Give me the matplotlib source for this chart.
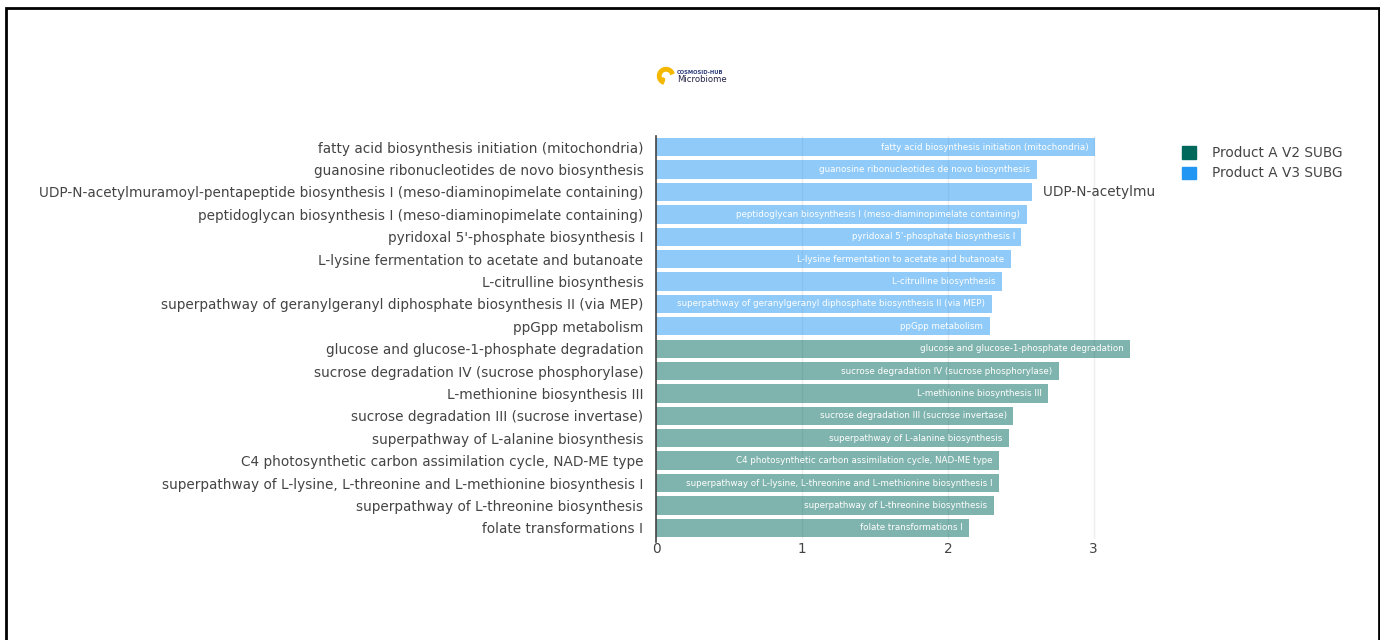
import matplotlib.pyplot as plt
from matplotlib.patches import Rectangle, Wedge

# pathways, top to bottom
v3_names = [
    "fatty acid biosynthesis initiation (mitochondria)",
    "guanosine ribonucleotides de novo biosynthesis",
    "UDP-N-acetylmuramoyl-pentapeptide biosynthesis I (meso-diaminopimelate containing)",
    "peptidoglycan biosynthesis I (meso-diaminopimelate containing)",
    "pyridoxal 5'-phosphate biosynthesis I",
    "L-lysine fermentation to acetate and butanoate",
    "L-citrulline biosynthesis",
    "superpathway of geranylgeranyl diphosphate biosynthesis II (via MEP)",
    "ppGpp metabolism",
]
v3_values = [3.01, 2.61, 2.58, 2.54, 2.505, 2.43, 2.37, 2.30, 2.286]

v2_names = [
    "glucose and glucose-1-phosphate degradation",
    "sucrose degradation IV (sucrose phosphorylase)",
    "L-methionine biosynthesis III",
    "sucrose degradation III (sucrose invertase)",
    "superpathway of L-alanine biosynthesis",
    "C4 photosynthetic carbon assimilation cycle, NAD-ME type",
    "superpathway of L-lysine, L-threonine and L-methionine biosynthesis I",
    "superpathway of L-threonine biosynthesis",
    "folate transformations I",
]
v2_values = [3.25, 2.76, 2.687, 2.45, 2.42, 2.354, 2.35, 2.317, 2.144]

series = ["Product A V2 SUBG", "Product A V3 SUBG"]
colors = ["#00695C", "#2196F3"]
outside = ["UDP-N-acetylmuramoyl-pentapeptide biosynthesis I (meso-diaminopimelate containing)"]

plt.rcParams['font.family'] = ['DejaVu Sans']
TXT = "#444444"
FS = 9.8

fig = plt.figure(figsize=(13.8, 6.4), dpi=100)
ax = fig.add_axes([656 / 1380, 1 - 539 / 640, 499 / 1380, 403 / 640])

names = v3_names + v2_names
values = v3_values + v2_values
cols = [colors[1]] * len(v3_names) + [colors[0]] * len(v2_names)
n = len(names)
ypos = [n - 1 - i for i in range(n)]

ax.barh(ypos, values, height=0.82, color=cols, alpha=0.5, linewidth=0, zorder=2)

for y, v, name in zip(ypos, values, names):
    if name in outside:
        # label does not fit inside the bar -> drawn after it, clipped by the plot area
        ax.text(v + 0.07, y, name, ha="left", va="center", fontsize=FS,
                color=TXT, clip_on=True, zorder=3)
    else:
        ax.text(v - 0.045, y, name, ha="right", va="center", fontsize=6.3,
                color="white", zorder=3)

ax.set_xlim(0, 3.42)
ax.set_ylim(-0.5, n - 0.5)
ax.set_yticks(ypos)
ax.set_yticklabels(names, fontsize=FS, color=TXT)
ax.set_xticks([0, 1, 2, 3])
ax.set_xticklabels(["0", "1", "2", "3"], fontsize=FS, color=TXT)
ax.tick_params(axis="y", length=0, pad=9)
ax.tick_params(axis="x", length=0, pad=2.5)
for s in ax.spines.values():
    s.set_visible(False)
ax.grid(axis="x", color="#eeeeee", linewidth=1, zorder=0)
ax.axvline(0, color="#444444", linewidth=1.2, zorder=4, ymin=-0.007, clip_on=False)

# legend
handles = [Rectangle((0, 0), 1, 1, color=c) for c in colors]
fig.legend(handles, series, loc="upper left", bbox_to_anchor=(1170 / 1380, 1 - 134 / 640),
           frameon=False, fontsize=FS, handlelength=1.0, handleheight=1.0,
           handletextpad=1.2, labelspacing=0.45, labelcolor=TXT)

# small logo at the top
logo = fig.add_axes([655 / 1380, 1 - 86 / 640, 20 / 1380, 20 / 640])
logo.set_xlim(-1, 1)
logo.set_ylim(-1, 1)
logo.set_aspect("equal")
logo.axis("off")
logo.add_patch(Wedge((0.1, 0.0), 0.85, 20, 250, width=0.35, color="#F5B800"))
logo.add_patch(plt.Circle((-0.2, -0.35), 0.15, color="#F5B800"))
fig.text(677 / 1380, 1 - 72 / 640, "COSMOSID-HUB", fontsize=3.8, color="#2a3a7a",
         fontweight="bold", va="center")
fig.text(677 / 1380, 1 - 79.5 / 640, "Microbiome", fontsize=6.1, color="#222244", va="center")

# outer frame
fig.patches.append(Rectangle((6 / 1380, -0.05), 1373 / 1380, 1.05 - 8 / 640,
                             transform=fig.transFigure, fill=False, edgecolor="black",
                             linewidth=2))

fig.savefig("out.png", dpi=100)
